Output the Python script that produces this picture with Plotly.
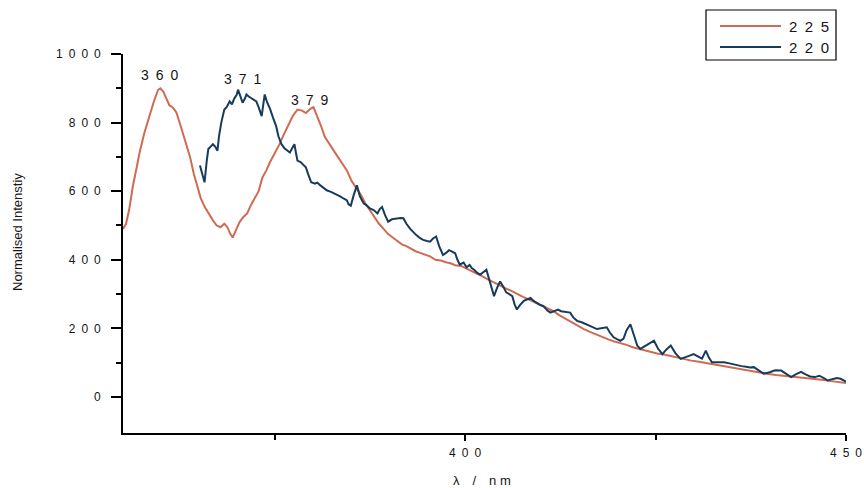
'''
    Emission spectra (225 nm and 220 nm excitation) drawn as two line traces.
'''

import plotly.graph_objects as go

# Series 225 (salmon red)
x_225 = [355.1, 355.5, 355.9, 356.4, 356.9, 357.3, 357.9, 358.6, 359.2, 359.7,
         360.0, 360.4, 360.8, 361.2, 361.6, 362.1, 362.6, 363.0, 363.4, 363.9,
         364.4, 364.8, 365.3, 365.8, 366.3, 366.9, 367.4, 367.9, 368.4, 368.8,
         369.2, 369.5, 369.9, 370.4, 370.9, 371.4, 371.9, 372.4, 372.9, 373.4,
         373.9, 374.4, 375.0, 375.6, 376.2, 376.8, 377.4, 378.0, 378.6, 379.1,
         379.7, 380.1, 380.6, 381.1, 381.6, 382.1, 382.7, 383.3, 383.9, 384.5,
         385.1, 385.7, 386.3, 386.9, 387.5, 388.1, 388.7, 389.3, 389.9, 390.5,
         391.1, 391.7, 392.3, 392.9, 393.5, 394.1, 394.7, 395.4, 396.1, 396.8,
         397.5, 398.1, 398.7, 399.5, 400.4, 401.2, 402.0, 402.8, 403.6, 404.4,
         405.2, 406.0, 406.8, 407.6, 408.4, 409.2, 410.0, 410.8, 411.6, 412.4,
         413.2, 414.0, 414.8, 415.6, 416.4, 417.2, 418.0, 418.8, 419.6, 420.4,
         421.2, 422.0, 422.8, 423.6, 424.4, 425.2, 426.1, 426.9, 427.7, 428.7,
         429.7, 430.7, 431.7, 432.7, 433.7, 434.7, 435.7, 436.7, 437.7, 438.7,
         439.8, 440.8, 441.8, 442.8, 443.8, 444.8, 445.8, 446.8, 447.8, 448.9,
         450.0]
y_225 = [490, 505, 545, 615, 670, 715, 770, 825, 865, 895,
         900, 890, 870, 850, 845, 830, 795, 765, 735, 700,
         650, 615, 580, 555, 535, 515, 500, 495, 505, 495,
         475, 465, 485, 510, 525, 535, 560, 580, 600, 640,
         660, 685, 710, 735, 765, 795, 820, 838, 835, 828,
         840, 845, 820, 790, 758, 740, 720, 700, 680, 660,
         630, 610, 590, 565, 545, 525, 505, 490, 475, 465,
         455, 445, 440, 432, 425, 420, 415, 410, 400, 398,
         393, 390, 384, 382, 372, 364, 355, 345, 336, 325,
         318, 310, 300, 292, 284, 276, 268, 258, 250, 238,
         228, 218, 206, 198, 190, 182, 174, 168, 162, 158,
         152, 145, 140, 135, 130, 127, 124, 120, 115, 110,
         106, 103, 99, 96, 92, 88, 84, 80, 76, 70,
         67, 64, 62, 59, 57, 55, 53, 50, 47, 44,
         41]

# Series 220 (dark navy)
x_220 = [365.2, 365.5, 365.8, 366.1, 366.3, 366.6, 366.9, 367.2, 367.5, 367.7,
         368.0, 368.4, 368.7, 369.1, 369.4, 369.7, 370.0, 370.2, 370.5, 370.8,
         371.1, 371.3, 371.6, 372.0, 372.4, 372.6, 372.9, 373.3, 373.5, 373.7,
         374.0, 374.4, 374.8, 375.2, 375.5, 375.9, 376.3, 376.7, 377.0, 377.3,
         377.6, 377.8, 378.0, 378.4, 378.8, 379.1, 379.4, 379.8, 380.3, 380.6,
         381.0, 381.5, 381.9, 382.4, 382.8, 383.2, 383.6, 384.1, 384.5, 384.7,
         385.0, 385.4, 385.8, 386.2, 386.7, 387.0, 387.5, 388.0, 388.5, 388.8,
         389.1, 389.5, 389.9, 390.4, 391.0, 391.5, 391.9, 392.3, 392.8, 393.2,
         393.6, 394.1, 394.5, 395.0, 395.4, 395.8, 396.2, 396.6, 397.1, 397.5,
         397.9, 398.3, 398.7, 399.0, 399.3, 399.8, 400.2, 400.6, 400.9, 401.2,
         401.6, 402.0, 402.4, 402.8, 403.2, 403.6, 403.8, 404.2, 404.6, 405.0,
         405.4, 405.8, 406.2, 406.5, 406.8, 407.2, 407.7, 408.2, 408.6, 409.0,
         409.5, 409.9, 410.3, 410.8, 411.2, 411.7, 412.2, 412.6, 413.2, 413.8,
         414.2, 414.7, 415.3, 416.0, 416.6, 417.3, 417.9, 418.6, 419.0, 419.5,
         420.0, 420.4, 420.8, 421.2, 421.7, 422.1, 422.6, 423.0, 423.5, 424.1,
         424.8, 425.3, 425.9, 426.4, 427.0, 427.6, 428.3, 428.9, 429.4, 430.0,
         430.5, 431.1, 431.6, 432.0, 432.4, 433.2, 434.0, 434.7, 435.2, 435.7,
         436.3, 436.9, 437.4, 437.9, 438.5, 439.2, 440.0, 440.7, 441.5, 442.1,
         442.8, 443.4, 444.1, 444.7, 445.3, 445.9, 446.5, 447.1, 447.6, 448.2,
         448.8, 449.3, 450.0]
y_220 = [675, 650, 626, 690, 723, 730, 737, 730, 718, 760,
         800, 838, 845, 862, 853, 870, 880, 896, 875, 858,
         870, 882, 876, 870, 865, 862, 845, 819, 850, 882,
         860, 840, 814, 790, 760, 737, 725, 718, 713, 725,
         737, 712, 689, 685, 678, 670, 650, 626, 622, 625,
         617, 608, 602, 598, 594, 588, 585, 578, 573, 562,
         558, 590, 617, 585, 564, 560, 550, 545, 535, 548,
         554, 530, 511, 518, 521, 522, 521, 505, 490, 480,
         472, 463, 458, 455, 453, 462, 468, 440, 414, 420,
         428, 424, 419, 400, 386, 392, 378, 385, 375, 371,
         362, 357, 365, 371, 340, 310, 294, 318, 337, 322,
         305, 300, 294, 270, 255, 268, 280, 285, 289, 280,
         272, 268, 265, 252, 246, 250, 255, 250, 248, 246,
         232, 222, 218, 212, 205, 198, 200, 203, 188, 174,
         168, 164, 170, 195, 212, 185, 150, 140, 148, 155,
         164, 142, 125, 138, 150, 128, 111, 115, 120, 125,
         118, 112, 135, 115, 101, 102, 101, 98, 95, 92,
         90, 88, 86, 87, 78, 68, 72, 78, 77, 68,
         58, 66, 73, 66, 60, 58, 62, 55, 48, 52,
         55, 53, 45]

EN = '\u2002'  # en space, used for the spaced-out digits of the original

series_names = [EN.join('225'), EN.join('220')]
series_colors = ['#cf6b52', '#173b5c']

# Peak labels
peak_x = [360.0, 370.9, 379.7]
peak_y = [940, 926, 866]
peak_text = [EN.join('360'), EN.join('371'), EN.join('379')]

# Tick labels
y_tickvals = [0, 200, 400, 600, 800, 1000]
y_ticktext = [EN.join(str(v)) for v in y_tickvals]
y_minor = [100, 300, 500, 700, 900]
x_tickvals = [400, 450]
x_ticktext = [EN.join(str(v)) for v in x_tickvals]
x_minor = [375, 425]

FONT = 'Liberation Sans, Arial, sans-serif'
TEXT_COLOR = '#151515'

FIG_W, FIG_H = 864, 488

# plot area in page pixels (left, right, top, bottom)
PLOT_L, PLOT_R, PLOT_T, PLOT_B = 123, 846, 54, 433

# drop the default 8px body margin so the figure fills the window exactly
BODY_FIX = "document.body.style.margin = '0px'; document.body.style.overflow = 'hidden';"


def px_to_paper(px, py):
    '''
        Converts a page pixel position to paper coordinates.
    '''
    return ((px - PLOT_L) / (PLOT_R - PLOT_L),
            (PLOT_B - py) / (PLOT_B - PLOT_T))


def add_legend_box(fig):
    '''
        Draws the framed legend in the top right corner (wide line samples).
    '''
    x0, y0 = px_to_paper(706, 60)
    x1, y1 = px_to_paper(836, 10)
    fig.add_shape(type='rect', xref='paper', yref='paper',
                  x0=x0, y0=y0, x1=x1, y1=y1,
                  line=dict(color='black', width=1.2), fillcolor='white')

    for i, (name, color) in enumerate(zip(series_names, series_colors)):
        row_y = 26 + i * 21
        lx0, ly = px_to_paper(720, row_y)
        lx1, _ = px_to_paper(781, row_y)
        fig.add_shape(type='line', xref='paper', yref='paper',
                      x0=lx0, y0=ly, x1=lx1, y1=ly,
                      line=dict(color=color, width=2))
        tx, _ = px_to_paper(787, row_y)
        fig.add_annotation(xref='paper', yref='paper', x=tx, y=ly,
                           xanchor='left', yanchor='middle', text=name,
                           showarrow=False,
                           font=dict(family=FONT, size=15, color=TEXT_COLOR))


def build_figure():
    '''
        Builds the spectra figure with both series, peak labels and axes.
    '''
    fig = go.Figure()

    for xs, ys, name, color in zip([x_225, x_220], [y_225, y_220],
                                   series_names, series_colors):
        fig.add_trace(go.Scatter(
            x=xs, y=ys, mode='lines', name=name,
            line=dict(color=color, width=2)
        ))

    for px, py, txt in zip(peak_x, peak_y, peak_text):
        fig.add_annotation(
            x=px, y=py, text=txt, showarrow=False,
            xanchor='center', yanchor='middle',
            font=dict(family=FONT, size=14, color=TEXT_COLOR)
        )

    add_legend_box(fig)

    # axis titles placed as annotations so they sit where the original has them
    tx, ty = px_to_paper(482, 480)
    fig.add_annotation(xref='paper', yref='paper', x=tx, y=ty,
                       xanchor='center', yanchor='middle',
                       text='λ' + EN * 2 + '/' + EN * 2 + 'n m', showarrow=False,
                       font=dict(family=FONT, size=13, color=TEXT_COLOR))
    tx, ty = px_to_paper(18, 232)
    fig.add_annotation(xref='paper', yref='paper', x=tx, y=ty,
                       xanchor='center', yanchor='middle',
                       text='Normalised Intenstiy', showarrow=False, textangle=-90,
                       font=dict(family=FONT, size=13, color=TEXT_COLOR))

    axis_common = dict(
        showline=True, linecolor='black', linewidth=1.6,
        ticks='outside', tickcolor='black', tickwidth=1.6,
        showgrid=False, zeroline=False, automargin=False,
        tickfont=dict(family=FONT, size=12, color=TEXT_COLOR),
    )

    fig.update_layout(
        width=FIG_W, height=FIG_H,
        margin=dict(l=PLOT_L, r=FIG_W - PLOT_R, t=PLOT_T, b=FIG_H - PLOT_B),
        paper_bgcolor='white', plot_bgcolor='white',
        showlegend=False,
        xaxis=dict(
            range=[355.1, 450], tickvals=x_tickvals, ticktext=x_ticktext,
            ticklen=6, ticklabelstandoff=2,
            minor=dict(tickvals=x_minor, ticklen=5, tickcolor='black', tickwidth=1.6),
            **axis_common
        ),
        yaxis=dict(
            range=[-105, 1000], tickvals=y_tickvals, ticktext=y_ticktext,
            ticklen=10, ticklabelstandoff=8,
            minor=dict(tickvals=y_minor, ticklen=5, tickcolor='black', tickwidth=1.6),
            **axis_common
        ),
    )

    return fig


fig = build_figure()
fig.write_html('out.html', post_script=BODY_FIX,
               config={'displayModeBar': False})
